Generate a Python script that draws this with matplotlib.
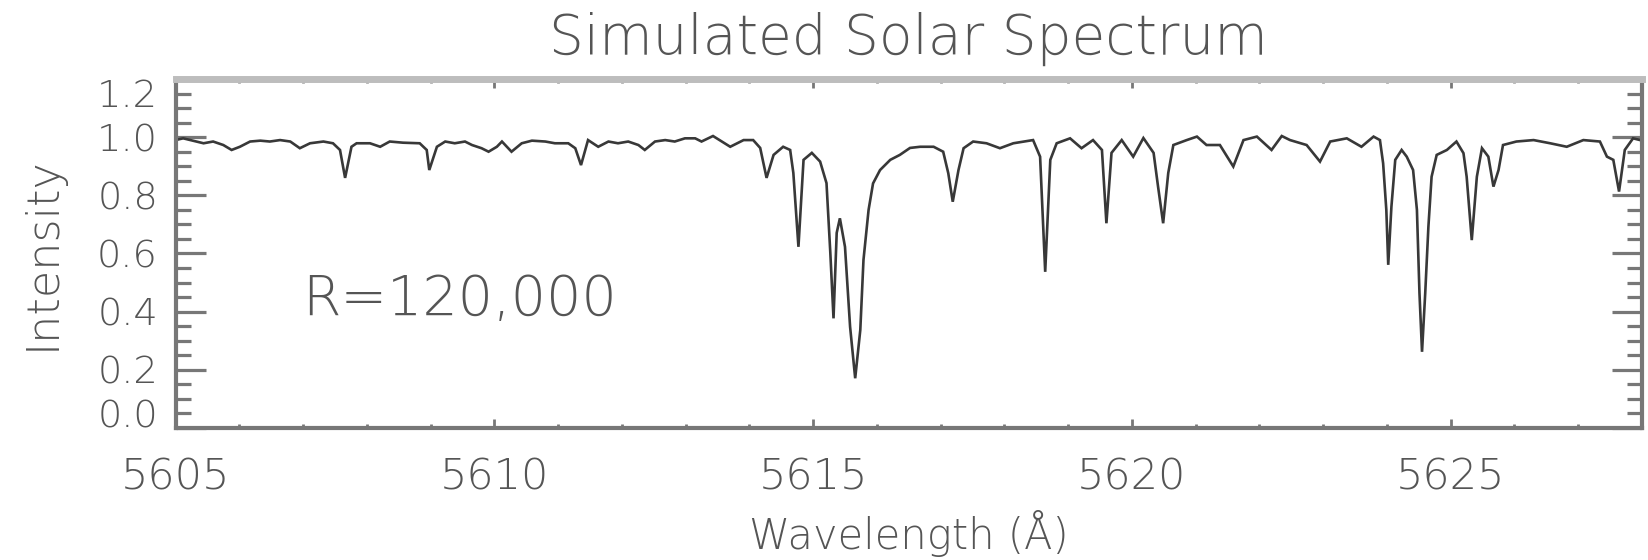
import matplotlib
matplotlib.use("Agg")
import matplotlib.pyplot as plt
from matplotlib.ticker import MultipleLocator

# Spectrum samples: wavelength (Angstrom) and normalised intensity
wavelength = [
    5605.00, 5605.12, 5605.44, 5605.59, 5605.75, 5605.88, 5606.01, 5606.17,
    5606.33, 5606.48, 5606.64, 5606.80, 5606.95, 5607.11, 5607.32, 5607.47,
    5607.58, 5607.66, 5607.76, 5607.84, 5608.05, 5608.21, 5608.36, 5608.57,
    5608.83, 5608.94, 5608.98, 5609.10,
    5609.23, 5609.38, 5609.54, 5609.65, 5609.80, 5609.91, 5610.04, 5610.12,
    5610.27, 5610.43, 5610.59, 5610.80, 5610.95, 5611.16, 5611.27, 5611.36,
    5611.47, 5611.63, 5611.79, 5611.94, 5612.10, 5612.26, 5612.36, 5612.52,
    5612.68, 5612.83, 5612.99, 5613.15, 5613.25,
    5613.43, 5613.70, 5613.91, 5614.06, 5614.17, 5614.27, 5614.38, 5614.53,
    5614.64, 5614.69, 5614.77, 5614.85, 5614.98, 5615.11, 5615.21, 5615.27,
    5615.32, 5615.37, 5615.42, 5615.50, 5615.58, 5615.66, 5615.74, 5615.79,
    5615.87, 5615.94, 5616.05, 5616.21, 5616.36, 5616.52, 5616.68, 5616.89,
    5617.04, 5617.12, 5617.19, 5617.28, 5617.36, 5617.51, 5617.72, 5617.93,
    5618.14, 5618.45, 5618.56, 5618.64, 5618.72, 5618.82, 5619.03, 5619.21,
    5619.39, 5619.53, 5619.60, 5619.68, 5619.84, 5620.02, 5620.18, 5620.34,
    5620.41, 5620.49, 5620.57, 5620.65, 5620.86, 5621.02, 5621.17, 5621.38,
    5621.59, 5621.75, 5621.96, 5622.19, 5622.35, 5622.48, 5622.74, 5622.95,
    5623.11, 5623.37,
    5623.60, 5623.79, 5623.89, 5623.94, 5623.99, 5624.02, 5624.07, 5624.13,
    5624.23, 5624.31, 5624.41, 5624.47, 5624.51, 5624.55, 5624.60, 5624.65,
    5624.70, 5624.78, 5624.94, 5625.09, 5625.20, 5625.25, 5625.33, 5625.41,
    5625.49, 5625.59, 5625.67, 5625.75, 5625.82, 5626.03, 5626.30, 5626.56,
    5626.82, 5627.08, 5627.34, 5627.45, 5627.55, 5627.64, 5627.73, 5627.86,
    5627.97,
]

intensity = [
    0.990, 0.996, 0.979, 0.985, 0.973, 0.956, 0.967, 0.985,
    0.988, 0.985, 0.990, 0.985, 0.962, 0.979, 0.985, 0.979,
    0.956, 0.860, 0.967, 0.979, 0.979, 0.967, 0.985, 0.981,
    0.979, 0.956, 0.887, 0.967,
    0.985, 0.979, 0.985, 0.973, 0.962, 0.950, 0.967, 0.985,
    0.950, 0.979, 0.988, 0.985, 0.979, 0.979, 0.962, 0.904,
    0.990, 0.967, 0.985, 0.979, 0.985, 0.973, 0.956, 0.985,
    0.990, 0.985, 0.996, 0.996, 0.985,
    1.004, 0.967, 0.990, 0.990, 0.963, 0.860, 0.939, 0.967,
    0.956, 0.877, 0.623, 0.922, 0.946, 0.916, 0.842, 0.602,
    0.377, 0.671, 0.721, 0.623, 0.348, 0.171, 0.337, 0.578,
    0.750, 0.841, 0.887, 0.922, 0.939, 0.963, 0.967, 0.967,
    0.950, 0.876, 0.778, 0.887, 0.962, 0.985, 0.979, 0.962,
    0.979, 0.990, 0.933, 0.537, 0.922, 0.979, 0.996, 0.962,
    0.990, 0.956, 0.704, 0.946, 0.990, 0.933, 0.997, 0.946,
    0.830, 0.704, 0.877, 0.973, 0.990, 1.002, 0.973, 0.973,
    0.899, 0.990, 1.002, 0.956, 1.004, 0.990, 0.973, 0.916,
    0.985, 0.996,
    0.967, 1.002, 0.990, 0.910, 0.750, 0.561, 0.761, 0.922,
    0.956, 0.933, 0.887, 0.750, 0.463, 0.262, 0.463, 0.692,
    0.864, 0.939, 0.956, 0.985, 0.945, 0.864, 0.646, 0.864,
    0.962, 0.933, 0.830, 0.887, 0.973, 0.985, 0.990, 0.979,
    0.967, 0.990, 0.985, 0.933, 0.922, 0.813, 0.956, 0.996,
    0.990,
]

x_major_ticks = [5605, 5610, 5615, 5620, 5625]
y_major_ticks = [0.0, 0.2, 0.4, 0.6, 0.8, 1.0, 1.2]
y_tick_labels = ["0.0", "0.2", "0.4", "0.6", "0.8", "1.0", "1.2"]

title_text = "Simulated Solar Spectrum"
x_label_text = "Wavelength (Å)"
y_label_text = "Intensity"
note_text = "R=120,000"

text_gray = "#555555"
axis_gray = "#777777"

plt.rcParams["font.family"] = ["DejaVu Sans"]
plt.rcParams["font.weight"] = "light"

W, H = 1648, 560
fig = plt.figure(figsize=(W / 100, H / 100), dpi=100)
ax = fig.add_axes([175.5 / W, 1 - 428 / H, (1642 - 175.5) / W, (428 - 79) / H])

ax.plot(wavelength, intensity, color="#383838", lw=1.9, solid_joinstyle="miter")

ax.set_xlim(5605, 5628)
ax.set_ylim(0, 1.2)
ax.set_xticks(x_major_ticks)
ax.xaxis.set_minor_locator(MultipleLocator(1))
ax.set_yticks(y_major_ticks)
ax.set_yticklabels(y_tick_labels)
ax.yaxis.set_minor_locator(MultipleLocator(0.05))

for side in ("left", "right", "bottom"):
    ax.spines[side].set_color(axis_gray)
    ax.spines[side].set_linewidth(3.0)
ax.spines["top"].set_color("#bdbdbd")
ax.spines["top"].set_linewidth(5.0)

ax.tick_params(axis="x", which="both", direction="in", top=True, bottom=True,
               color=axis_gray, width=2.0, labelcolor=text_gray,
               labelsize=31, pad=20.5)
ax.tick_params(axis="x", which="major", length=6.5)
ax.tick_params(axis="x", which="minor", length=3.2)
ax.tick_params(axis="y", which="both", direction="in", left=True, right=True,
               color=axis_gray, width=2.3, labelcolor=text_gray,
               labelsize=27.5, pad=12.6)
ax.tick_params(axis="y", which="major", length=21.6)
ax.tick_params(axis="y", which="minor", length=10.8)

# keep the end labels inside the vertical extent of the frame
ylabels = ax.get_yticklabels()
ylabels[0].set_va("baseline")
ylabels[-1].set_va("top")

ax.set_title(title_text, fontsize=39.5, color=text_gray, pad=18, fontweight="light")
ax.set_xlabel(x_label_text, fontsize=30, color=text_gray, fontweight="light")
ax.xaxis.set_label_coords(0.5, -0.3476)
ax.xaxis.label.set_va("baseline")
ax.set_ylabel(y_label_text, fontsize=32, color=text_gray, fontweight="light")
ax.yaxis.set_label_coords(-0.076, 0.5)

ax.text(5606.98, 0.389, note_text, fontsize=40, color=text_gray,
        va="baseline", ha="left", fontweight="light")

fig.savefig("out.png", dpi=100)
